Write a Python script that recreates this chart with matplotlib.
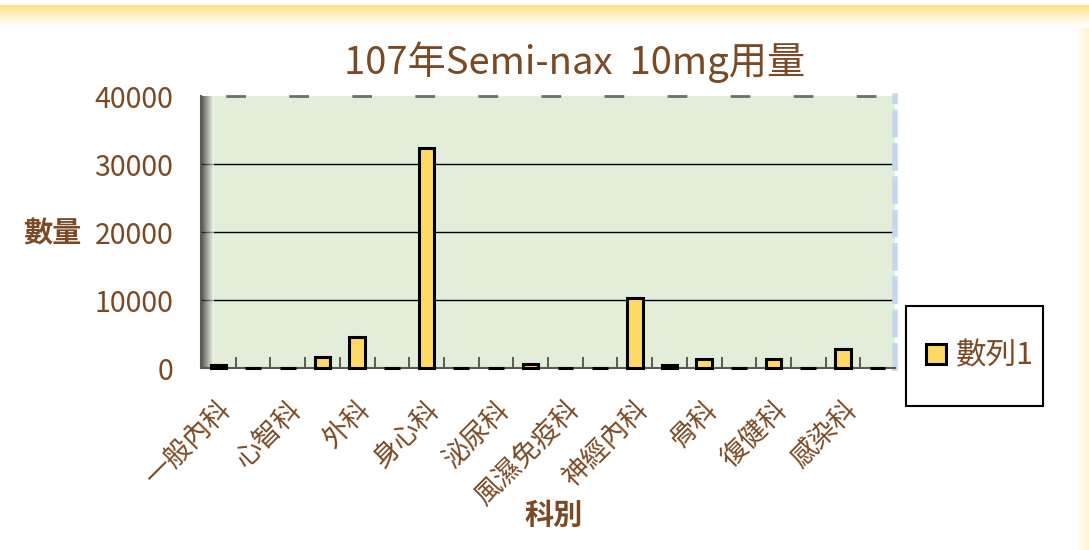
import numpy as np
import matplotlib
matplotlib.use('Agg')
import matplotlib.pyplot as plt
from matplotlib.patches import Rectangle

plt.rcParams['font.family'] = ['Noto Sans CJK TC', 'DejaVu Sans']

# ---------------- data ----------------
title = "107年Semi-nax  10mg用量"
series_name = "數列1"
# 20 departments, only every second one is labelled on the axis
values = [400, 0, 0, 1600, 4600, 0, 32300, 0, 0, 550,
          0, 0, 10250, 400, 1300, 0, 1300, 0, 2750, 0]
shown_labels = ['一般內科', '心智科', '外科', '身心科', '泌尿科',
                '風濕免疫科', '神經內科', '骨科', '復健科', '感染科']
y_ticks = [0, 10000, 20000, 30000, 40000]

brown = '#7B4A24'
bar_color = '#FFD966'
W, H = 1089, 550

fig = plt.figure(figsize=(W / 100, H / 100), dpi=100)

# ---------------- background: yellow band on top, pale strip on the right ----------------
bg = fig.add_axes([0, 0, 1, 1])
bg.set_axis_off()
img = np.ones((H, W, 3))
gold = np.array([1.0, 0.86, 0.45])
for r in range(5, 28):
    a = 0.85 * (1 - (r - 5) / 23.0) ** 1.3
    img[r, :, :] = (1 - a) + a * gold
for c in range(1076, W):
    a = 0.35 * (c - 1076) / 13.0
    img[28:, c, :] = (1 - a) + a * gold
bg.imshow(img, extent=(0, W, H, 0), aspect='auto', zorder=0)
bg.set_xlim(0, W)
bg.set_ylim(H, 0)

# ---------------- plot area ----------------
ax = fig.add_axes([201 / W, 1 - 368 / H, 694 / W, 272 / H])
ax.set_facecolor('#E2EED9')

x = np.arange(len(values))
bars = ax.bar(x, values, width=0.45, color=bar_color, edgecolor='black',
              linewidth=2.2, zorder=3, label=series_name, clip_on=False)

# shadow on the left edge of the plot area
shade = np.linspace(0.0, 1.0, 50).reshape(1, -1)
ax.imshow(shade, cmap='gray', vmin=0, vmax=1, alpha=0.65, extent=(0, 0.018, 0, 1),
          transform=ax.transAxes, aspect='auto', zorder=1)

ax.set_xlim(-0.5, len(values) - 0.5)
ax.set_ylim(0, 40000)

ax.set_yticks(y_ticks)
ax.yaxis.grid(True, color='black', linewidth=1, zorder=2)
ax.set_axisbelow(True)
ax.get_ygridlines()[-1].set_visible(False)
ax.get_ygridlines()[0].set_visible(False)
ax.tick_params(axis='y', length=0, pad=20, labelsize=20.5, labelcolor=brown)

ax.set_xticks(x[::2])
ax.set_xticklabels(shown_labels, rotation=45, ha='right', rotation_mode='anchor')
ax.tick_params(axis='x', which='major', length=0, pad=20, labelsize=19.5, labelcolor=brown)
ax.set_xticks(x[:-1] + 0.5, minor=True)
ax.tick_params(axis='x', which='minor', direction='in', length=8, width=1.2, color='#404040')

ax.spines['top'].set_color('#6E6E6E')
ax.spines['top'].set_linewidth(2)
ax.spines['top'].set_linestyle((13.3, (6.1, 16.6)))
ax.spines['right'].set_color('#C5D9EE')
ax.spines['right'].set_linewidth(4)
ax.spines['right'].set_linestyle((0, (4, 2)))
ax.spines['left'].set_color('#5A5A5A')
ax.spines['left'].set_linewidth(1.5)
ax.spines['bottom'].set_color('#595959')
ax.spines['bottom'].set_linewidth(1.5)

ax.set_ylabel('數量', rotation=0, fontsize=21, fontweight='bold', color=brown,
              ha='center', va='center')
ax.yaxis.set_label_coords((52 - 201) / 694, (368 - 233) / 272)
ax.set_xlabel('科別', fontsize=21, fontweight='bold', color=brown, ha='center', va='center')
ax.xaxis.set_label_coords((554 - 201) / 694, (368 - 515) / 272)

fig.text(575 / W, 1 - 62 / H, title, ha='center', va='center', fontsize=27.5, color=brown)

# legend: frame drawn as a box, entry centred inside it
fig.patches.append(Rectangle((906 / W, 1 - 406 / H), 137 / W, 100 / H, transform=fig.transFigure,
                             facecolor='white', edgecolor='black', linewidth=1.5, zorder=5))
leg = fig.legend(handles=[bars], labels=[series_name], loc='center',
                 bbox_to_anchor=(980 / W, 1 - 356 / H), fontsize=22, frameon=False,
                 handlelength=0.65, handleheight=0.65, handletextpad=0.35, borderpad=0,
                 borderaxespad=0, labelcolor=brown)
leg.set_zorder(6)

fig.savefig('out.png', dpi=100)
